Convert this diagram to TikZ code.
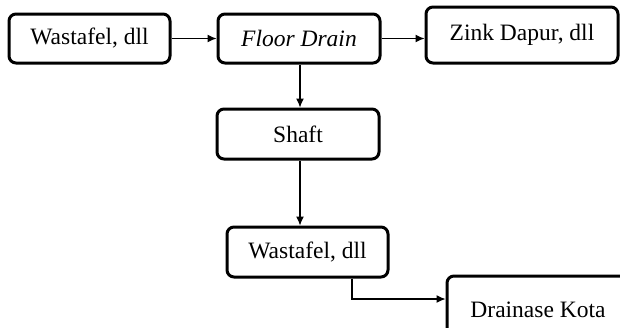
\documentclass[tikz,border=0pt]{standalone}
\usepackage{fontspec}
\setmainfont{Liberation Serif}
\usetikzlibrary{arrows.meta}
\begin{document}
\begin{tikzpicture}[x=1pt,y=-1pt,
  box/.style={draw, line width=3pt, rounded corners=7pt, fill=white, inner sep=0pt,
    font=\fontsize{23.5}{28}\selectfont},
  conn/.style={line width=1.2pt, -{Latex[length=9pt,width=8pt]}}]
\useasboundingbox (0,0) rectangle (620,327);
\clip (0,0) rectangle (620,327);
\node[box, minimum width=161pt, minimum height=49pt] (w1) at (89.5,38.5) {Wastafel, dll};
\node[box, minimum width=162pt, minimum height=49pt] (fd) at (299,38.5) {\itshape Floor Drain};
\node[box, minimum width=192pt, minimum height=56pt] (zd) at (522,35) {Zink Dapur, dll};
\node[box, minimum width=162pt, minimum height=50pt] (sh) at (298,134) {Shaft};
\node[box, minimum width=161pt, minimum height=50pt] (w2) at (307.5,252) {Wastafel, dll};
\node[box, minimum width=182pt, minimum height=68pt] (dk) at (538,310) {Drainase Kota};
\coordinate (k) at (352,299);
\draw[conn] (w1.east) -- (fd.west);
\draw[conn] (fd.east) -- (fd.east -| zd.west);
\draw[conn] (fd.south -| 300,0) -- (sh.north -| 300,0);
\draw[conn] (sh.south -| 300,0) -- (w2.north -| 300,0);
\draw[conn] (w2.south -| k) -- (k) -- (k -| dk.west);
\end{tikzpicture}
\end{document}
